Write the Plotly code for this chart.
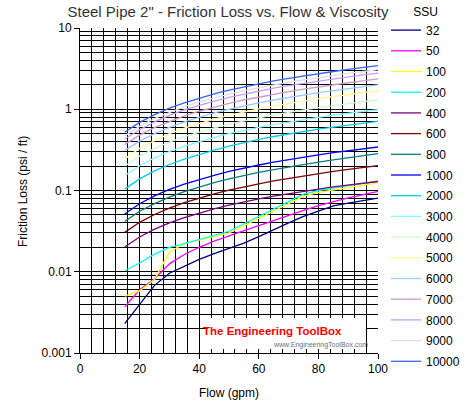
import plotly.graph_objects as go

flow = [15, 20, 25, 30, 35, 40, 45, 50, 55, 60, 65, 70, 75, 80, 85, 90, 95, 100]

ssu_labels = ["32", "50", "100", "200", "400", "600", "800", "1000", "2000",
              "3000", "4000", "5000", "6000", "7000", "8000", "9000", "10000"]

ssu_32 = [0.0023, 0.0040, 0.0068, 0.0096, 0.0118, 0.0142, 0.0167, 0.0194, 0.0225,
          0.0270, 0.0330, 0.0400, 0.0480, 0.0560, 0.0645, 0.0700, 0.0755, 0.0805]
ssu_50 = [0.0037, 0.0060, 0.0082, 0.0125, 0.0163, 0.0200, 0.0238, 0.0278, 0.0320,
          0.0370, 0.0430, 0.0500, 0.0570, 0.0650, 0.0730, 0.0810, 0.0890, 0.0975]
ssu_100 = [0.0050, 0.0058, 0.0080, 0.0175, 0.0222, 0.0245, 0.0270, 0.0300, 0.0370,
           0.0450, 0.0560, 0.0690, 0.0850, 0.0950, 0.1020, 0.1090, 0.1160, 0.1240]
ssu_200 = [0.0103, 0.0128, 0.0165, 0.0200, 0.0222, 0.0250, 0.0280, 0.0315, 0.0390,
           0.0480, 0.0600, 0.0740, 0.0900, 0.1000, 0.1080, 0.1150, 0.1220, 0.1300]
ssu_400 = [0.0202, 0.0268, 0.0334, 0.0400, 0.0465, 0.0530, 0.0595, 0.0660, 0.0725,
           0.0790, 0.0850, 0.0915, 0.0980, 0.1040, 0.1105, 0.1165, 0.1230, 0.1290]
ssu_600 = [0.0305, 0.0406, 0.0507, 0.0608, 0.0709, 0.0810, 0.0911, 0.1010, 0.1110,
           0.1210, 0.1310, 0.1410, 0.1510, 0.1620, 0.1720, 0.1820, 0.1920, 0.2020]
ssu_800 = [0.0415, 0.0555, 0.0690, 0.0830, 0.0970, 0.1110, 0.1250, 0.1390, 0.1530,
           0.1670, 0.1810, 0.1950, 0.2100, 0.2240, 0.2380, 0.2540, 0.2690, 0.2840]
ssu_1000 = [0.0514, 0.0686, 0.0858, 0.1030, 0.1200, 0.1370, 0.1540, 0.1720, 0.1890,
            0.2060, 0.2230, 0.2400, 0.2570, 0.2740, 0.2920, 0.3090, 0.3260, 0.3430]
ssu_2000 = [0.104, 0.139, 0.174, 0.209, 0.244, 0.280, 0.315, 0.352, 0.390,
            0.427, 0.462, 0.497, 0.532, 0.568, 0.603, 0.639, 0.675, 0.710]
ssu_3000 = [0.152, 0.202, 0.252, 0.302, 0.352, 0.400, 0.450, 0.500, 0.550,
            0.600, 0.645, 0.695, 0.745, 0.795, 0.845, 0.895, 0.940, 0.990]
ssu_4000 = [0.200, 0.265, 0.330, 0.395, 0.460, 0.525, 0.590, 0.655, 0.720,
            0.785, 0.850, 0.915, 0.980, 1.045, 1.110, 1.180, 1.245, 1.310]
ssu_5000 = [0.245, 0.330, 0.410, 0.500, 0.585, 0.670, 0.755, 0.840, 0.925,
            1.010, 1.095, 1.180, 1.265, 1.350, 1.435, 1.520, 1.605, 1.690]
ssu_6000 = [0.310, 0.405, 0.500, 0.600, 0.700, 0.800, 0.900, 1.000, 1.100,
            1.200, 1.300, 1.400, 1.500, 1.600, 1.700, 1.800, 1.900, 2.000]
ssu_7000 = [0.370, 0.480, 0.595, 0.710, 0.830, 0.945, 1.060, 1.180, 1.300,
            1.415, 1.535, 1.650, 1.770, 1.890, 2.005, 2.120, 2.240, 2.360]
ssu_8000 = [0.430, 0.560, 0.700, 0.840, 0.980, 1.120, 1.260, 1.400, 1.535,
            1.675, 1.815, 1.955, 2.090, 2.230, 2.370, 2.510, 2.650, 2.790]
ssu_9000 = [0.470, 0.615, 0.770, 0.920, 1.075, 1.230, 1.380, 1.535, 1.690,
            1.840, 1.995, 2.150, 2.300, 2.455, 2.610, 2.760, 2.915, 3.070]
ssu_10000 = [0.520, 0.690, 0.860, 1.030, 1.200, 1.370, 1.545, 1.715, 1.885,
             2.060, 2.230, 2.400, 2.575, 2.745, 2.915, 3.090, 3.260, 3.440]

series = [ssu_32, ssu_50, ssu_100, ssu_200, ssu_400, ssu_600, ssu_800, ssu_1000,
          ssu_2000, ssu_3000, ssu_4000, ssu_5000, ssu_6000, ssu_7000, ssu_8000,
          ssu_9000, ssu_10000]

colors = ["#000080", "#FF00FF", "#FFFF00", "#00FFFF", "#800080", "#800000",
          "#008080", "#0000FF", "#00CCFF", "#80FFFF", "#CCFFCC", "#FFFF99",
          "#99CCFF", "#CC99CC", "#CC99FF", "#E0E0E0", "#3366FF"]

y_ticks = [0.001, 0.01, 0.1, 1, 10]
y_ticktext = ["0.001", "0.01", "0.1", "1", "10"]
y_minor = [m * d for d in [0.001, 0.01, 0.1, 1] for m in range(2, 10)]

FONT = "Liberation Sans, Arial, sans-serif"

fig = go.Figure()
for lab, vals, col in zip(ssu_labels, series, colors):
    fig.add_trace(go.Scatter(x=flow, y=vals, mode="lines", name=lab,
                             legendgroup=lab,
                             line=dict(color=col, width=1.3)))

W, H = 470, 420
L, R = 80, 92
pw = W - L - R
PLOT_TOP, PLOT_BOT = 28, 353


def px2paper_x(px):
    return (px - L) / pw


def px2paper_y(py):
    return (H - py) / H


fig.update_layout(
    width=W, height=H,
    margin=dict(l=L, r=R, t=0, b=0, pad=0, autoexpand=False),
    paper_bgcolor="white", plot_bgcolor="rgba(0,0,0,0)",
    font=dict(family=FONT, size=12, color="black"),
    title=dict(text="Steel Pipe 2\" - Friction Loss vs. Flow & Viscosity",
               x=px2paper_x(228), xref="paper", xanchor="center",
               y=1 - 12 / H, yref="container", yanchor="middle",
               font=dict(family=FONT, size=15, color="#333333")),
    showlegend=True,
    legend=dict(title=dict(text="SSU", side="top center",
                           font=dict(family=FONT, size=12, color="black")),
                x=px2paper_x(386), xanchor="left",
                y=1, yanchor="top",
                traceorder="grouped", tracegroupgap=1.7,
                font=dict(family=FONT, size=12, color="black"),
                bgcolor="rgba(0,0,0,0)", borderwidth=0,
                itemwidth=30),
    xaxis=dict(range=[0, 100], dtick=20, tick0=0, domain=[0, 1],
               showgrid=True, gridcolor="black", gridwidth=1,
               minor=dict(dtick=4, tick0=0, showgrid=True, gridcolor="black",
                          gridwidth=1, ticks=""),
               ticks="outside", ticklen=5, tickcolor="black",
               showline=True, linecolor="black", linewidth=1,
               zeroline=False, tickfont=dict(size=12, color="black")),
    yaxis=dict(type="log", range=[-3, 1],
               domain=[px2paper_y(PLOT_BOT), px2paper_y(PLOT_TOP)],
               tickmode="array", tickvals=y_ticks, ticktext=y_ticktext,
               showgrid=True, gridcolor="black", gridwidth=1,
               minor=dict(tickmode="array", tickvals=y_minor, showgrid=True,
                          gridcolor="black", gridwidth=1, ticks=""),
               ticks="outside", ticklen=5, tickcolor="black",
               showline=True, linecolor="black", linewidth=1,
               zeroline=False, tickfont=dict(size=12, color="black")),
)

# axis titles
fig.add_annotation(text="Flow (gpm)", xref="paper", yref="paper",
                   x=px2paper_x(229), y=px2paper_y(393), showarrow=False,
                   xanchor="center", yanchor="middle",
                   font=dict(family=FONT, size=12, color="black"))
fig.add_annotation(text="Friction Loss (psi / ft)", xref="paper", yref="paper",
                   x=px2paper_x(23), y=px2paper_y(192), showarrow=False,
                   textangle=-90, xanchor="center", yanchor="middle",
                   font=dict(family=FONT, size=12, color="black"))

# watermark box
fig.add_shape(type="rect", xref="paper", yref="paper",
              x0=px2paper_x(208), x1=px2paper_x(366),
              y0=px2paper_y(349), y1=px2paper_y(318),
              fillcolor="white", line=dict(width=0), layer="above")
fig.add_annotation(text="<b>The Engineering ToolBox</b>", xref="paper", yref="paper",
                   x=px2paper_x(272), y=px2paper_y(331), showarrow=False,
                   xanchor="center", yanchor="middle",
                   font=dict(family="Liberation Sans Narrow, Liberation Sans, sans-serif",
                             size=11.5, color="#FF0000"))
fig.add_annotation(text="www.EngineeringToolBox.com", xref="paper", yref="paper",
                   x=px2paper_x(320), y=px2paper_y(344.5), showarrow=False,
                   xanchor="center", yanchor="middle",
                   font=dict(family=FONT, size=7, color="#707070"))

fig.write_html("out.html")
